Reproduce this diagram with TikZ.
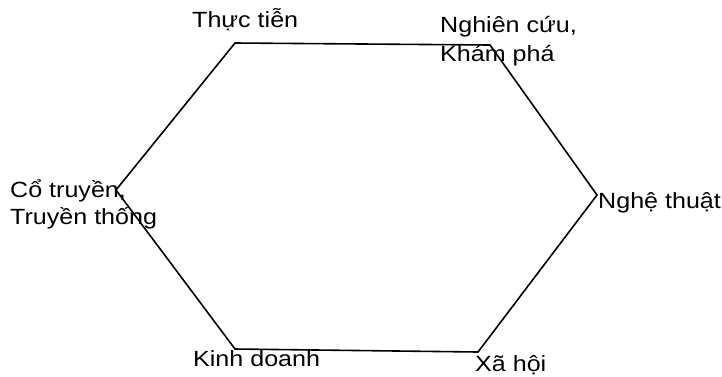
\documentclass[tikz,border=0pt]{standalone}
\usepackage{fontspec}
\setmainfont{Liberation Sans}[FakeStretch=1.14]
\begin{document}
\begin{tikzpicture}[x=1pt,y=-1pt,
  lbl/.style={inner sep=0pt,anchor=base west,font=\fontsize{22}{26}\selectfont},
  hexline/.style={line width=1.6pt,line join=miter}]
\useasboundingbox[fill=white] (0,0) rectangle (722,376);
% vertices
\coordinate (tl) at (235,43);
\coordinate (tr) at (490,45);
\coordinate (r) at (597,195);
\coordinate (br) at (478,352);
\coordinate (bl) at (235,349);
\coordinate (l) at (116,190);
\draw[hexline] (tl) -- (tr) -- (r) -- (br) -- (bl) -- (l) -- cycle;
% labels
\node[lbl] (thuc) at (192,27) {Thực tiễn};
\node[lbl] (ng1) at (440,32) {Nghiên cứu,};
\node[lbl] (ng2) at (440,61) {Khám phá};
\node[lbl] (co1) at (10,197) {Cổ truyền,};
\node[lbl] (co2) at (10,224) {Truyền thống};
\node[lbl] (nghe) at (598,208) {Nghệ thuật};
\node[lbl] (kinh) at (193,366) {Kinh doanh};
\node[lbl] (xa) at (475,371) {Xã hội};
\end{tikzpicture}
\end{document}
